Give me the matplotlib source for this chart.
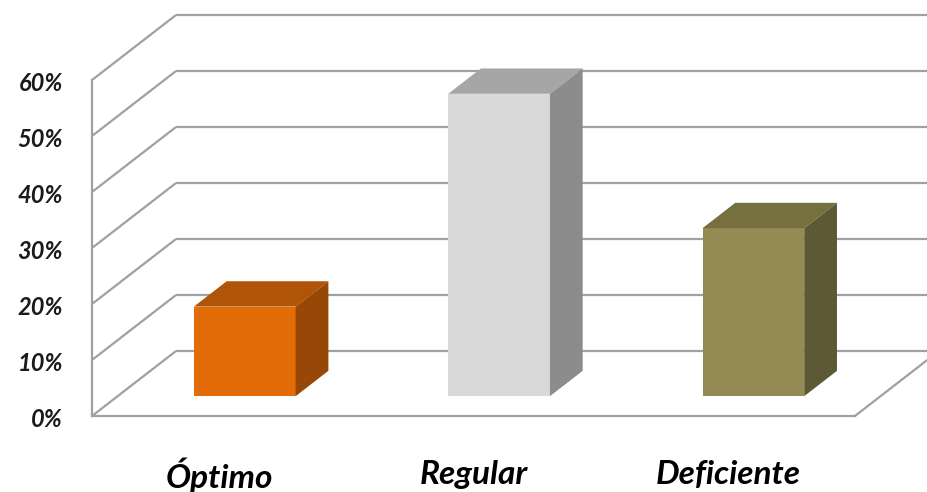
import matplotlib
matplotlib.use("Agg")
import matplotlib.pyplot as plt
from matplotlib.patches import Polygon

categories = ["Óptimo", "Regular", "Deficiente"]
values = [16, 54, 30]
ticks = [0, 10, 20, 30, 40, 50, 60]
tick_labels = ["0%", "10%", "20%", "30%", "40%", "50%", "60%"]

front_colors = ["#E36C09", "#D9D9D9", "#948A54"]
top_colors = ["#B05408", "#A6A6A6", "#76703F"]
side_colors = ["#974806", "#8C8C8C", "#5E5935"]

# projection parameters (depth offset in data units)
DX = 0.3303
DY = 11.607
d0, d1 = 0.305, 0.695  # bar depth range
bw = 0.40

fig = plt.figure(figsize=(9.28, 4.92), dpi=100)
ax = fig.add_axes([0, 0, 1, 1])
ax.set_xlim(-0.3618, 3.2875)
ax.set_ylim(-13.57, 74.29)
ax.axis("off")

gc = "#A0A0A0"
glw = 1.6
n = len(categories)
# grid: left wall slants + back horizontals
for t in ticks:
    ax.plot([0, DX], [t, t + DY], color=gc, lw=glw, zorder=1, solid_capstyle="butt")
    ax.plot([DX, n + DX], [t + DY, t + DY], color=gc, lw=glw, zorder=1, solid_capstyle="butt")
# front vertical axis line
ax.plot([0, 0], [0, ticks[-1]], color=gc, lw=glw, zorder=1)
# floor front edge and right edge
ax.plot([0, n], [0, 0], color=gc, lw=glw, zorder=1)
ax.plot([n, n + DX], [0, DY], color=gc, lw=glw, zorder=1)

# bars
for i, (v, fc, tc, sc) in enumerate(zip(values, front_colors, top_colors, side_colors)):
    cx = i + 0.5
    xl = cx - bw / 2 + d0 * DX
    xr = cx + bw / 2 + d0 * DX
    yb = d0 * DY
    yt = v + d0 * DY
    ddx = (d1 - d0) * DX
    ddy = (d1 - d0) * DY
    ax.bar(cx + d0 * DX, v, bottom=yb, width=bw, color=fc, zorder=3, linewidth=0)
    top = Polygon([[xl, yt], [xr, yt], [xr + ddx, yt + ddy], [xl + ddx, yt + ddy]],
                  closed=True, facecolor=tc, edgecolor="none", zorder=3)
    side = Polygon([[xr, yb], [xr + ddx, yb + ddy], [xr + ddx, yt + ddy], [xr, yt]],
                   closed=True, facecolor=sc, edgecolor="none", zorder=3)
    ax.add_patch(top)
    ax.add_patch(side)

# tick labels
for t, lab in zip(ticks, tick_labels):
    ax.text(-0.114, t - 0.7, lab, ha="right", va="center", fontsize=17,
            fontfamily="Lato", fontweight="bold", fontstyle="italic", color="#1a1a1a")

for i, c in enumerate(categories):
    ax.text(i + 0.5, -10.5, c, ha="center", va="center", fontsize=24,
            fontfamily="Lato", fontweight="bold", fontstyle="italic", color="black")

fig.savefig("out.png", dpi=100)
